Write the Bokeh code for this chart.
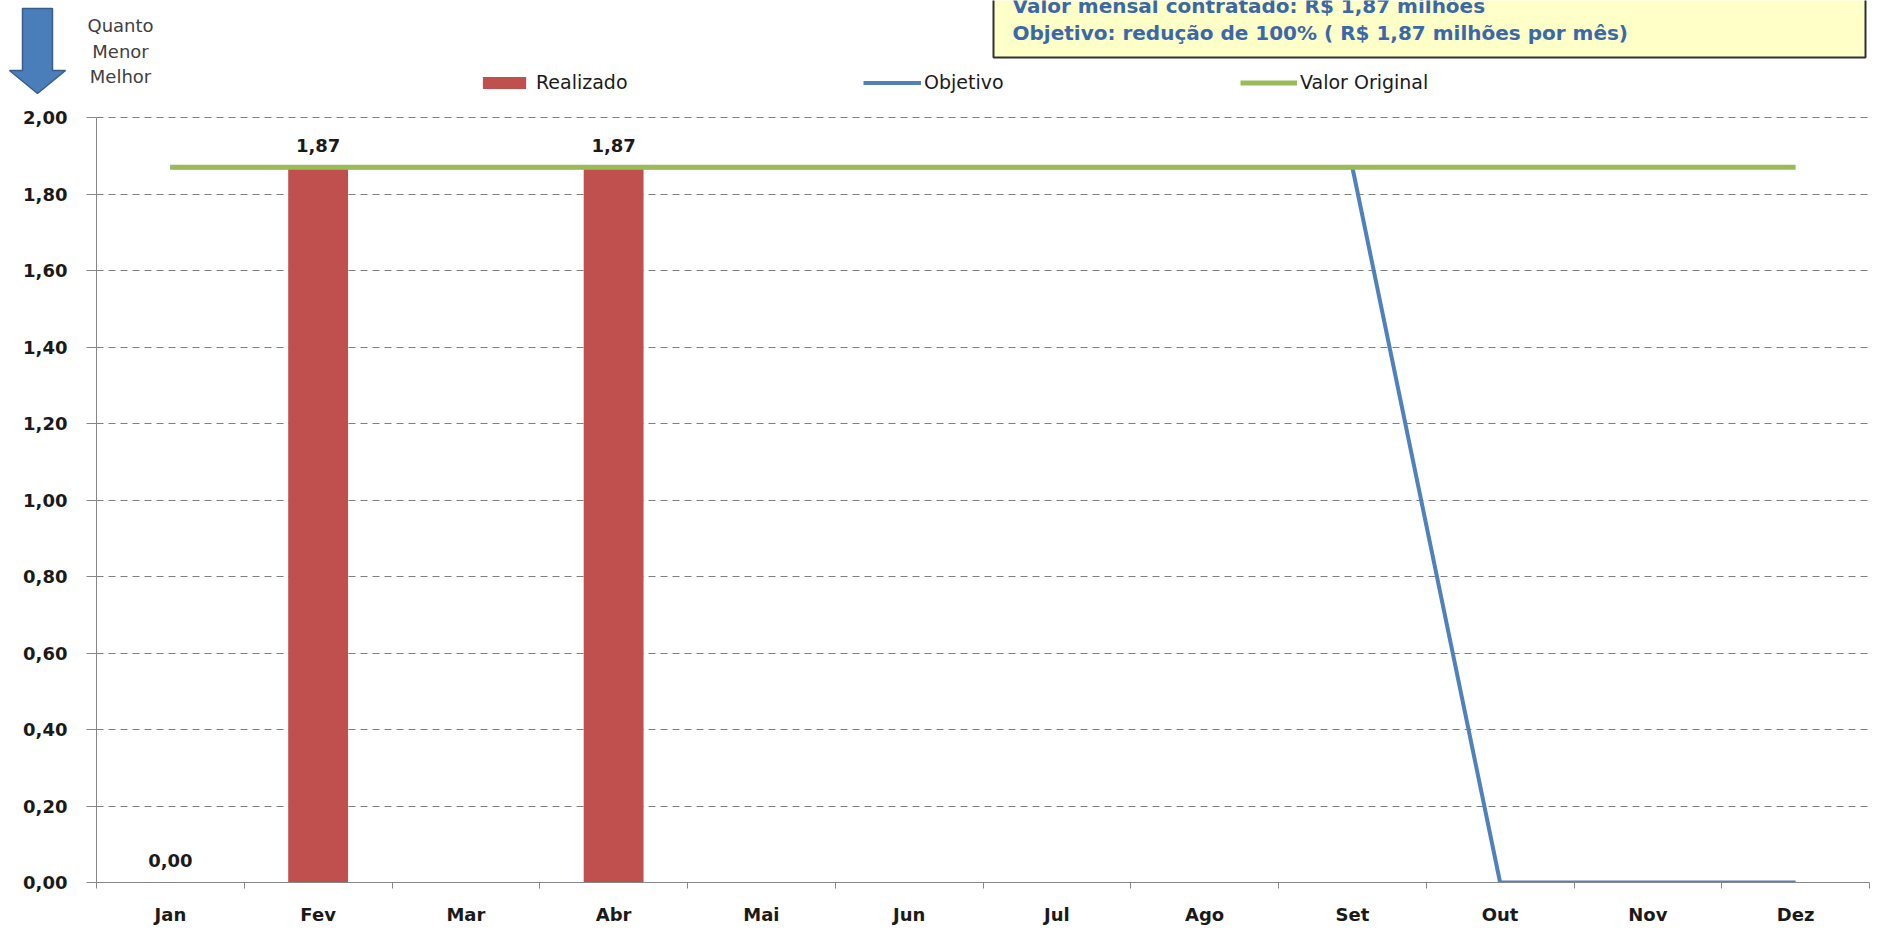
from bokeh.plotting import figure
from bokeh.models import (Range1d, FixedTicker, CustomJSTickFormatter, Legend, LegendItem,
                          ColumnDataSource)
from bokeh.embed import file_html
from bokeh.resources import INLINE
from bokeh.core.properties import value

# ---------------- data ----------------
months = ["Jan", "Fev", "Mar", "Abr", "Mai", "Jun", "Jul", "Ago", "Set", "Out", "Nov", "Dez"]
realizado = [0.00, 1.87, None, 1.87, None, None, None, None, None, None, None, None]
objetivo = [1.87, 1.87, 1.87, 1.87, 1.87, 1.87, 1.87, 1.87, 1.87, 0.00, 0.00, 0.00]
valor_original = [1.87] * 12
y_ticks = [0.0, 0.2, 0.4, 0.6, 0.8, 1.0, 1.2, 1.4, 1.6, 1.8, 2.0]
box_lines = ["Valor mensal contratado: R$ 1,87 milhões",
             "Objetivo: redução de 100% ( R$ 1,87 milhões por mês)"]
note_lines = ["Quanto", "Menor", "Melhor"]
series_names = ["Realizado", "Objetivo", "Valor Original"]

RED = "#C0504D"
BLUE = "#4F81BD"
GREEN = "#9BBB59"
FONT = "DejaVu Sans"
TXT = "#1A1A1A"
NAN = float("nan")

W = 1891
TOP_H = 100          # header strip (arrow, note, legend, info box)
MAIN_H = 829
# main chart frame (in page pixels): x 96..1869, y(2.0)=117, y(0)=882
BL, BR = 96, W - 1869
BT = 113 - TOP_H
BB = TOP_H + MAIN_H - 882
Y_TOP = 2.0 + 4 / 382.5   # small headroom so the 2,00 gridline is drawn

# ---------------- header strip ----------------
top = figure(width=W, height=TOP_H, output_backend="svg", toolbar_location=None,
             x_range=Range1d(0, W), y_range=Range1d(TOP_H, 0),
             x_axis_location=None, y_axis_location=None,
             min_border=0, min_border_left=0, min_border_right=0,
             min_border_top=0, min_border_bottom=0)
top.outline_line_color = None
top.xgrid.visible = False
top.ygrid.visible = False
top.background_fill_color = "white"
top.border_fill_color = "white"

# down arrow
top.patch([22, 52, 52, 65, 37, 9, 22], [8, 8, 70, 70, 93, 70, 70],
          fill_color="#4A7EBB", line_color="#385D8A", line_width=1.5)
# "Quanto Menor Melhor"
top.text(x=[120, 120, 120], y=[25, 51, 76], text=note_lines, text_align="center",
         text_baseline="middle", text_font=value(FONT), text_font_size="18px",
         text_color="#404040")
# info box
top.quad(left=[993], right=[1865], top=[-10], bottom=[57],
         fill_color="#FFFFC8", line_color="#303030", line_width=2)
top.text(x=[1012, 1012], y=[5, 32], text=box_lines, text_align="left",
         text_baseline="middle", text_font=value(FONT), text_font_style="bold",
         text_font_size="20px", text_color="#3A68A8")

# legend (proxy renderers with the same styles as the chart series; NaN -> nothing drawn)
leg_bar = top.vbar(x=[NAN], top=[NAN], width=1, fill_color=RED, line_color=None)
leg_obj = top.line(x=[NAN], y=[NAN], line_color=BLUE, line_width=4)
leg_vo = top.line(x=[NAN], y=[NAN], line_color=GREEN, line_width=5)

def add_leg(label, rend, left, glyph_w, standoff):
    leg = Legend(items=[LegendItem(label=label, renderers=[rend])],
                 location=(left, TOP_H - 93), orientation="horizontal",
                 glyph_width=glyph_w, glyph_height=15, label_standoff=standoff,
                 label_text_font=FONT, label_text_font_size="19px", label_text_color=TXT,
                 label_height=22, padding=0, margin=0, spacing=0,
                 border_line_color=None, background_fill_alpha=0)
    top.add_layout(leg)

add_leg(series_names[0], leg_bar, 477, 54, 5)
add_leg(series_names[1], leg_obj, 863, 58, 3)
add_leg(series_names[2], leg_vo, 1240, 57, 3)

# ---------------- main chart ----------------
xc = [i + 0.5 for i in range(len(months))]

p = figure(width=W, height=MAIN_H, output_backend="svg", toolbar_location=None,
           x_range=Range1d(0, len(months)), y_range=Range1d(0, Y_TOP),
           min_border_left=BL, min_border_right=BR, min_border_top=BT, min_border_bottom=BB)
p.outline_line_color = None
p.background_fill_color = "white"
p.border_fill_color = "white"
p.xgrid.grid_line_color = None
p.ygrid.grid_line_color = "#808080"
p.ygrid.grid_line_dash = "7 5"
p.ygrid.grid_line_width = 1
p.ygrid.ticker = FixedTicker(ticks=y_ticks[1:])

# y axis
p.yaxis.ticker = FixedTicker(ticks=y_ticks)
p.yaxis.bounds = (0, 2.0)
p.yaxis.formatter = CustomJSTickFormatter(code="return tick.toFixed(2).replace('.', ',');")
p.yaxis.axis_line_color = "#868686"
p.yaxis.major_tick_line_color = "#868686"
p.yaxis.major_tick_out = 10
p.yaxis.major_tick_in = 0
p.yaxis.minor_tick_line_color = None
p.yaxis.major_label_standoff = 19
p.yaxis.major_label_text_font = FONT
p.yaxis.major_label_text_font_style = "bold"
p.yaxis.major_label_text_font_size = "18px"
p.yaxis.major_label_text_color = TXT

# x axis: labels at category centres, tick marks at category boundaries
p.xaxis.ticker = FixedTicker(ticks=xc, minor_ticks=list(range(len(months) + 1)))
p.xaxis.major_label_overrides = {x: m for x, m in zip(xc, months)}
p.xaxis.axis_line_color = "#868686"
p.xaxis.major_tick_line_color = None
p.xaxis.major_tick_out = 0
p.xaxis.major_tick_in = 0
p.xaxis.minor_tick_line_color = "#868686"
p.xaxis.minor_tick_out = 6
p.xaxis.minor_tick_in = 0
p.xaxis.major_label_standoff = 15
p.xaxis.major_label_text_font = FONT
p.xaxis.major_label_text_font_style = "bold"
p.xaxis.major_label_text_font_size = "18px"
p.xaxis.major_label_text_color = TXT

# series
bar_x = [x for x, v in zip(xc, realizado) if v is not None]
bar_v = [v for v in realizado if v is not None]
bar_lbl = [f"{v:.2f}".replace(".", ",") for v in bar_v]
src = ColumnDataSource(dict(x=bar_x, top=bar_v, lbl=bar_lbl))
p.vbar(x="x", top="top", bottom=0, width=0.405, source=src, fill_color=RED, line_color=None)
p.line(xc, objetivo, line_color=BLUE, line_width=4)
p.line(xc, valor_original, line_color=GREEN, line_width=5)
p.text(x="x", y="top", text="lbl", source=src, text_align="center", text_baseline="middle",
       y_offset=-22, text_font=value(FONT), text_font_style="bold", text_font_size="18px",
       text_color=TXT)

# two independent roots stacked on the page (no frame alignment between them)
open("out.html", "w").write(file_html((top, p), INLINE))
